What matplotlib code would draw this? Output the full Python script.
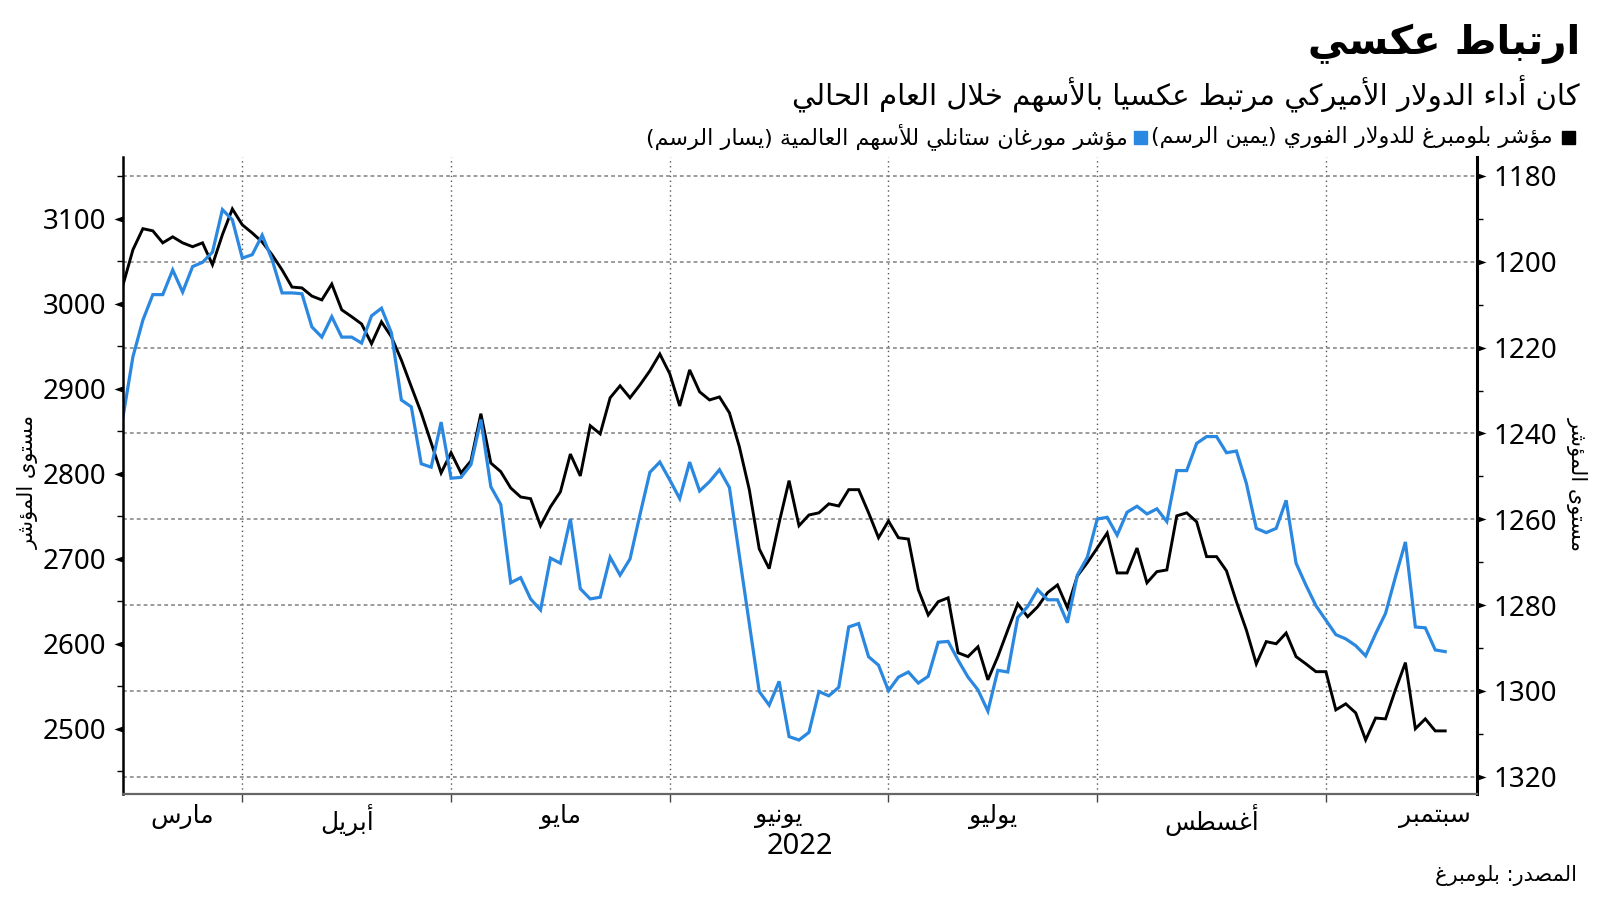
import numpy as np
import pandas as pd
import matplotlib
matplotlib.use("Agg")
import matplotlib.pyplot as plt
from matplotlib import transforms
from matplotlib.path import Path
from matplotlib.patches import Rectangle

# weekdays from mid March to mid September 2022
dates = pd.bdate_range("2022-03-16", "2022-09-19")

# MSCI world index (left axis)
msci = [2867, 2938, 2981, 3011, 3011, 3040, 3014, 3044, 3049, 3061,
        3111, 3099, 3054, 3058, 3081, 3052, 3013, 3013, 3012, 2973,
        2961, 2985, 2961, 2961, 2954, 2986, 2995, 2966, 2887, 2879,
        2812, 2808, 2861, 2795, 2796, 2811, 2864, 2785, 2764, 2672,
        2678, 2653, 2640, 2701, 2695, 2747, 2665, 2653, 2655, 2702,
        2681, 2700, 2752, 2802, 2814, 2793, 2771, 2814, 2780, 2791,
        2805, 2784, 2704, 2624, 2544, 2528, 2556, 2491, 2487, 2496,
        2544, 2539, 2549, 2620, 2624, 2585, 2575, 2545, 2561, 2567,
        2554, 2562, 2602, 2603, 2581, 2561, 2546, 2521, 2569, 2567,
        2631, 2644, 2664, 2652, 2652, 2625, 2681, 2702, 2747, 2749,
        2728, 2755, 2762, 2753, 2759, 2744, 2804, 2804, 2836, 2844,
        2844, 2825, 2827, 2789, 2736, 2731, 2736, 2769, 2695, 2669,
        2645, 2628, 2611, 2606, 2598, 2586, 2612, 2636, 2679, 2720,
        2620, 2619, 2593, 2591]

# Bloomberg dollar spot index (right axis, inverted)
dollar = [1205.4, 1197.2, 1192.3, 1192.8, 1195.6, 1194.2, 1195.6, 1196.5, 1195.6, 1200.7,
          1193.7, 1187.7, 1191.4, 1193.3, 1195.4, 1198.4, 1201.9, 1205.9, 1206.1, 1208.0,
          1208.9, 1205.2, 1211.2, 1212.8, 1214.5, 1219.1, 1214.0, 1217.5, 1222.9, 1229.1,
          1235.2, 1242.2, 1249.2, 1244.5, 1249.2, 1246.4, 1235.4, 1246.9, 1248.9, 1252.7,
          1254.8, 1255.2, 1261.5, 1257.1, 1253.6, 1244.8, 1249.9, 1238.2, 1240.1, 1231.7,
          1228.9, 1231.7, 1228.7, 1225.4, 1221.5, 1226.1, 1233.6, 1225.2, 1230.3, 1232.2,
          1231.5, 1235.2, 1243.1, 1253.1, 1266.9, 1271.5, 1260.8, 1251.0, 1261.5, 1259.0,
          1258.5, 1256.4, 1256.9, 1253.1, 1253.1, 1258.5, 1264.3, 1260.4, 1264.3, 1264.6,
          1276.4, 1282.3, 1279.2, 1278.3, 1291.1, 1292.0, 1289.7, 1297.4, 1292.0, 1285.8,
          1279.7, 1282.7, 1280.4, 1277.1, 1275.3, 1280.6, 1273.2, 1270.1, 1266.7, 1263.2,
          1272.5, 1272.5, 1266.7, 1274.8, 1272.2, 1271.8, 1259.2, 1258.5, 1260.6, 1268.7,
          1268.7, 1272.0, 1279.2, 1285.8, 1293.7, 1288.5, 1289.0, 1286.5, 1292.0, 1293.7,
          1295.5, 1295.5, 1304.4, 1303.0, 1305.1, 1311.4, 1306.3, 1306.5, 1299.7, 1293.4,
          1308.8, 1306.5, 1309.3, 1309.3]

month_names = ["مارس", "أبريل", "مايو", "يونيو", "يوليو", "أغسطس", "سبتمبر"]
left_ticks = [2500, 2600, 2700, 2800, 2900, 3000, 3100]
right_ticks = [1180, 1200, 1220, 1240, 1260, 1280, 1300, 1320]

title = "ارتباط عكسي"
subtitle = "كان أداء الدولار الأميركي مرتبط عكسيا بالأسهم خلال العام الحالي"
legend1 = "مؤشر بلومبرغ للدولار الفوري (يمين الرسم)"
legend2 = "مؤشر مورغان ستانلي للأسهم العالمية (يسار الرسم)"
ylabel = "مستوى المؤشر"
source = "المصدر: بلومبرغ"

BLUE = "#2a88e0"

# --- minimal arabic shaping (matplotlib draws glyphs left to right, unjoined) ---
_letters = [(0x0621, 0xFE80, 1), (0x0622, 0xFE81, 2), (0x0623, 0xFE83, 2),
            (0x0624, 0xFE85, 2), (0x0625, 0xFE87, 2), (0x0626, 0xFE89, 4),
            (0x0627, 0xFE8D, 2), (0x0628, 0xFE8F, 4), (0x0629, 0xFE93, 2),
            (0x062A, 0xFE95, 4), (0x062B, 0xFE99, 4), (0x062C, 0xFE9D, 4),
            (0x062D, 0xFEA1, 4), (0x062E, 0xFEA5, 4), (0x062F, 0xFEA9, 2),
            (0x0630, 0xFEAB, 2), (0x0631, 0xFEAD, 2), (0x0632, 0xFEAF, 2),
            (0x0633, 0xFEB1, 4), (0x0634, 0xFEB5, 4), (0x0635, 0xFEB9, 4),
            (0x0636, 0xFEBD, 4), (0x0637, 0xFEC1, 4), (0x0638, 0xFEC5, 4),
            (0x0639, 0xFEC9, 4), (0x063A, 0xFECD, 4), (0x0641, 0xFED1, 4),
            (0x0642, 0xFED5, 4), (0x0643, 0xFED9, 4), (0x0644, 0xFEDD, 4),
            (0x0645, 0xFEE1, 4), (0x0646, 0xFEE5, 4), (0x0647, 0xFEE9, 4),
            (0x0648, 0xFEED, 2), (0x0649, 0xFEEF, 2), (0x064A, 0xFEF1, 4)]
FORMS = {chr(c): (start, n) for c, start, n in _letters}
LAMALEF = {"\u0622": 0xFEF5, "\u0623": 0xFEF7, "\u0625": 0xFEF9, "\u0627": 0xFEFB}


def ar(text):
    out = []
    prev_joins = False
    i = 0
    while i < len(text):
        c = text[i]
        if c not in FORMS:
            out.append(c)
            prev_joins = False
            i += 1
            continue
        if c == "\u0644" and i + 1 < len(text) and text[i + 1] in LAMALEF:
            out.append(chr(LAMALEF[text[i + 1]] + (1 if prev_joins else 0)))
            prev_joins = False
            i += 2
            continue
        start, n = FORMS[c]
        nxt = text[i + 1] if i + 1 < len(text) else ""
        next_joins = n == 4 and nxt in FORMS and FORMS[nxt][1] > 1
        if n == 1:
            form = 0
        elif prev_joins and next_joins:
            form = 3
        elif prev_joins:
            form = 1
        elif next_joins:
            form = 2
        else:
            form = 0
        out.append(chr(start + form))
        prev_joins = n == 4
        i += 1
    vis = "".join(reversed(out))
    return vis.translate(str.maketrans("()", ")("))


plt.rcParams["font.family"] = ["DejaVu Sans"]
NUMFONT = ["Noto Sans", "DejaVu Sans"]

fig = plt.figure(figsize=(16, 9.01), dpi=100)
W, H = 1600, 901

x = np.arange(len(dates))
xmax = 136.2

# month boundaries in weekday index
starts = [i for i in range(1, len(dates)) if dates[i].month != dates[i - 1].month]
mids = []
for m in range(3, 10):
    a = np.busday_count(dates[0].date(), pd.Timestamp(2022, m, 1).date())
    b = np.busday_count(dates[0].date(), pd.Timestamp(2022, m + 1, 1).date())
    mids.append((max(a, 0) + b) / 2)

ax = fig.add_axes([123 / W, 1 - 794 / H, 1354 / W, 637 / H])
ax2 = ax.twinx()
# blue line drawn over the black one and the grid
ax.set_zorder(2)
ax2.set_zorder(1)
ax.patch.set_visible(False)

ax2.plot(x, dollar, color="black", lw=2.1, solid_joinstyle="miter")
ax.plot(x, msci, color=BLUE, lw=2.3, solid_joinstyle="miter")

# grid
ax2.set_yticks(right_ticks)
ax2.yaxis.grid(True, which="major", linestyle=(0, (2.5, 2)), color="#808080", lw=1.1)
for s in starts:
    ax2.axvline(s, color="#555555", ls=(0, (1, 2.5)), lw=1.0, zorder=0)

# spines
for a in (ax, ax2):
    a.spines["top"].set_visible(False)
ax.spines["right"].set_visible(False)
ax2.spines["left"].set_visible(False)
ax2.spines["bottom"].set_visible(False)
ax.spines["left"].set_linewidth(1.8)
ax2.spines["right"].set_linewidth(2.2)
ax.spines["bottom"].set_color("#666666")
ax.spines["bottom"].set_linewidth(1.6)

# y ticks
ax.set_yticks(left_ticks)
ax.set_yticklabels([str(v) for v in left_ticks], fontfamily=NUMFONT)
ax.set_yticks(np.arange(2450, 3200, 100), minor=True)
ax.tick_params(axis="y", which="major", length=0, pad=12, labelsize=20)
ax.tick_params(axis="y", which="minor", length=4, width=1, color="black")

ax2.set_yticklabels([str(v) for v in right_ticks], fontfamily=NUMFONT)
ax2.set_yticks(np.arange(1190, 1320, 20), minor=True)
ax2.tick_params(axis="y", which="major", length=0, pad=12, labelsize=20)
ax2.tick_params(axis="y", which="minor", length=4, width=1, color="black")

# triangle tick marks
tri_l = Path([(0, 0.35), (0, -0.35), (-1, 0), (0, 0.35)],
             [Path.MOVETO, Path.LINETO, Path.LINETO, Path.CLOSEPOLY])
tri_r = Path([(0, 0.35), (0, -0.35), (1, 0), (0, 0.35)],
             [Path.MOVETO, Path.LINETO, Path.LINETO, Path.CLOSEPOLY])
ax.plot(np.zeros(len(left_ticks)), left_ticks, ls="none", marker=tri_l, ms=13,
        mew=0, color="black", clip_on=False,
        transform=transforms.blended_transform_factory(ax.transAxes, ax.transData))
ax2.plot(np.ones(len(right_ticks)), right_ticks, ls="none", marker=tri_r, ms=13,
         mew=0, color="black", clip_on=False,
         transform=transforms.blended_transform_factory(ax2.transAxes, ax2.transData))

ax.set_xlim(0, xmax)
ax.set_ylim(2423.5, 3172.9)
ax2.set_ylim(1324.0, 1175.6)

# x ticks: month boundaries + month names in the middle
ax.set_xticks(starts)
ax.set_xticklabels([])
ax.set_xticks(mids, minor=True)
ax.set_xticklabels([ar(m) for m in month_names], minor=True)
ax.tick_params(axis="x", which="major", length=6, width=1, color="#444444")
ax.tick_params(axis="x", which="minor", length=0, pad=7, labelsize=18)

fig.text(800 / W, 1 - 847 / H, "2022", ha="center", va="center", fontsize=21,
         fontfamily=NUMFONT)

# axis titles
fig.text(28 / W, 1 - 482 / H, ar(ylabel), rotation=90, ha="center", va="center", fontsize=15)
fig.text(1577 / W, 1 - 484 / H, ar(ylabel), rotation=-90, ha="center", va="center", fontsize=15)

# title block
fig.text(1580 / W, 1 - 44 / H, ar(title), ha="right", va="center", fontsize=29, fontweight="bold")
fig.text(1580 / W, 1 - 94 / H, ar(subtitle), ha="right", va="center", fontsize=21)
fig.text(1577 / W, 1 - 875 / H, ar(source), ha="right", va="center", fontsize=15)

# legend laid out right to left
ly = 1 - 137 / H
fig.patches.append(Rectangle((1562 / W, 1 - 143.5 / H), 13 / W, 13 / H,
                             transform=fig.transFigure, color="black"))
t1 = fig.text(1553 / W, ly, ar(legend1), ha="right", va="center", fontsize=16)
fig.canvas.draw()
r = fig.canvas.get_renderer()
x0 = t1.get_window_extent(r).x0
fig.patches.append(Rectangle(((x0 - 17) / W, 1 - 143.5 / H), 13 / W, 13 / H,
                             transform=fig.transFigure, color=BLUE))
fig.text((x0 - 24) / W, ly, ar(legend2), ha="right", va="center", fontsize=16)

fig.savefig("out.png", dpi=100)
